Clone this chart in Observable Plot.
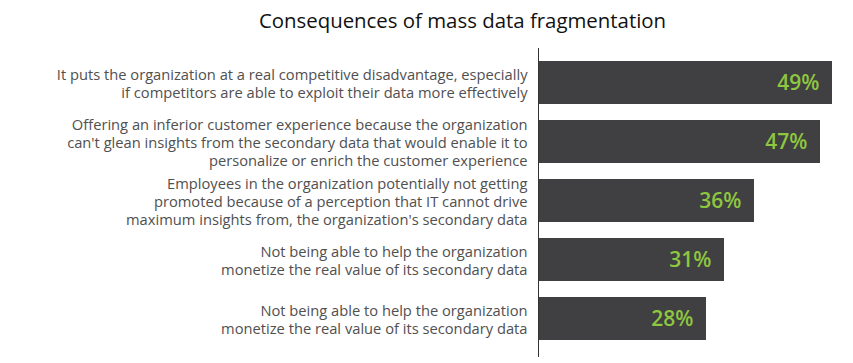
<!DOCTYPE html>
<html>
<head>
<meta charset="utf-8">
<script src="https://cdn.jsdelivr.net/npm/d3@7"></script>
<script src="https://cdn.jsdelivr.net/npm/@observablehq/plot@0.6"></script>
<style>
  html, body { margin: 0; padding: 0; background: #fff; overflow: hidden; }
  #title {
    height: 44px; box-sizing: border-box; padding-top: 10px; padding-left: 72px;
    text-align: center; font-family: "Open Sans", sans-serif; font-size: 20.4px;
    line-height: 20px; color: #111;
  }
  svg { display: block; }
</style>
</head>
<body>
<div id="title">Consequences of mass data fragmentation</div>
<div id="chart"></div>
<script>
const categories = [
  "It puts the organization at a real competitive disadvantage, especially\nif competitors are able to exploit their data more effectively",
  "Offering an inferior customer experience because the organization\ncan't glean insights from the secondary data that would enable it to\npersonalize or enrich the customer experience",
  "Employees in the organization potentially not getting\npromoted because of a perception that IT cannot drive\nmaximum insights from, the organization's secondary data",
  "Not being able to help the organization\nmonetize the real value of its secondary data",
  "Not being able to help the organization\nmonetize the real value of its secondary data"
];
const values = [49, 47, 36, 31, 28];
const valueLabels = ["49%", "47%", "36%", "31%", "28%"];

const data = categories.map((c, i) => ({id: i, label: c, value: values[i], text: valueLabels[i]}));

const chart = Plot.plot({
  width: 853,
  height: 319,
  marginLeft: 538,
  marginRight: 15,
  marginTop: 4,
  marginBottom: 6,
  style: {fontFamily: "'Open Sans', sans-serif", background: "#fff"},
  x: {domain: [0, 50], axis: null},
  y: {domain: d3.range(categories.length), paddingInner: 0.266, paddingOuter: 0.24, align: 0.43, axis: null},
  marks: [
    Plot.barX(data, {x: "value", y: "id", fill: "#403f41"}),
    Plot.ruleX([0], {stroke: "#333", strokeWidth: 1}),
    Plot.text(data, {x: "value", y: "id", text: "text", textAnchor: "end", dx: -13, fill: "#8dc63f", fontSize: 21, fontWeight: 600}),
    Plot.axisY({
      tickSize: 0, tickPadding: 11, fontSize: 14.7, lineHeight: 1.25,
      color: "#505050", label: null,
      tickFormat: i => categories[i]
    })
  ]
});
document.getElementById("chart").appendChild(chart);
</script>
</body>
</html>
